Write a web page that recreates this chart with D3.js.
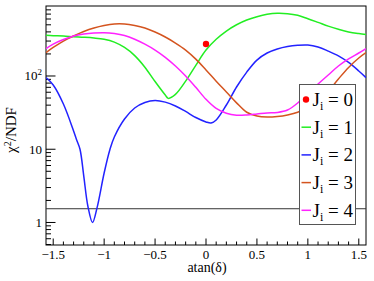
<!DOCTYPE html>
<html><head><meta charset="utf-8">
<script src="https://cdn.jsdelivr.net/npm/d3@7"></script>
<style>body{margin:0;background:#fff}svg{display:block}text{font-family:"Liberation Serif","DejaVu Serif",serif}</style>
</head><body>
<script>
// ---- data ----
const xGrid = [-1.5708,-1.5,-1.4,-1.3,-1.2,-1.1,-1.0,-0.9,-0.8,-0.7,-0.6,-0.5,-0.4,-0.3,-0.2,-0.1,0,0.1,0.2,0.3,0.4,0.5,0.6,0.7,0.8,0.9,1.0,1.1,1.2,1.3,1.4,1.5,1.5708];

const j1X = [-1.5708,-1.5,-1.4,-1.3,-1.2,-1.1,-1.0,-0.9,-0.8,-0.7,-0.6,-0.5,-0.4,-0.37,-0.3,-0.2,-0.1,0,0.1,0.2,0.3,0.4,0.5,0.6,0.7,0.8,0.9,1.0,1.1,1.2,1.3,1.4,1.5,1.5708];
const j1Y = [359,355,352,344,338,330,317,290,245,190,132,84,55,49.5,56,85,140,226,317,411,501,582,645,695,718,709,674,606,540,480,435,400,380,370];

const j2X = [-1.5708,-1.5,-1.4,-1.3,-1.2697,-1.237,-1.2,-1.16,-1.114,-1.07,-1.0,-0.9425,-0.9,-0.8,-0.7,-0.6,-0.5,-0.4,-0.3,-0.2,-0.1,0,0.05,0.1,0.2,0.3,0.4,0.5,0.6,0.7,0.8,0.9,1.0,1.1,1.2,1.3,1.4,1.5,1.5708];
const j2Y = [95,75.4,41.5,17.8,13.4,10,4.3,1.68,1.0,1.58,4.74,10,14.7,25.9,36.6,43.5,46.3,44,39,32.8,27.1,23.6,22.8,25.1,40.2,70.8,113,165,206,234,253,263,265,249,219,188,153,117,95];

const j3Y = [208,245,300,352,405,452,489,513,513,489,452,399,341,282,226,170,121,85,60.5,43,32,28.4,27.5,28,29.4,32,37.7,45.6,62,91,131,176,208];

const j4Y = [236,273,315,352,374,386,390,380,357,318,272,226,180,137,100,70,48,36,31,29.2,29.4,30.3,31.3,31.8,34.3,42.8,58.6,77.8,103,137,171,206,237];

const j0Point = {x: 0.0, y: 273};
const refLevel = 1.54;

const legendLabels = ["0","1","2","3","4"];
const colors = ["#ff0000","#22ee22","#2222ff","#d4541f","#ff22ff"];
const xTickVals = [-1.5,-1,-0.5,0,0.5,1,1.5];
const xTickLabels = ["\u22121.5","\u22121","\u22120.5","0","0.5","1","1.5"];
const yTickVals = [1,10,100];

// ---- layout ----
const W = 374, H = 281;
const svg = d3.select("body").append("svg").attr("width", W).attr("height", H);
const FF = "Liberation Serif, DejaVu Serif, serif";

const x = d3.scaleLinear().domain([-Math.PI/2, Math.PI/2]).range([46, 366]);
const y = d3.scaleLog().domain([0.488, 889]).range([245.3, 6.5]);

const line = d3.line().x(d => x(d[0])).y(d => y(d[1])).curve(d3.curveCatmullRom.alpha(0.5));

const g = svg.append("g");
// frame
g.append("rect").attr("x", 46).attr("y", 6).attr("width", 320).attr("height", 239)
  .attr("fill", "none").attr("stroke", "#000").attr("stroke-width", 1);

// x ticks
const xMinor = d3.range(-15, 16).map(i => i/10).filter(v => !xTickVals.some(t => Math.abs(t - v) < 1e-9));
g.selectAll(".xminor").data(xMinor).join("line")
  .attr("x1", d => x(d)).attr("x2", d => x(d)).attr("y1", 245).attr("y2", 241.5)
  .attr("stroke", "#000").attr("stroke-width", 1);
g.selectAll(".xmajor").data(xTickVals).join("line")
  .attr("x1", d => x(d)).attr("x2", d => x(d)).attr("y1", 245).attr("y2", 238.5)
  .attr("stroke", "#000").attr("stroke-width", 1);
g.selectAll(".xlab").data(xTickVals).join("text")
  .attr("x", d => x(d)).attr("y", 258.5).attr("text-anchor", "middle")
  .attr("font-family", FF).attr("font-size", 13).text((d, i) => xTickLabels[i]);

// y ticks
const yMinor = [];
[0.1, 1, 10, 100].forEach(dec => { for (let k = 2; k <= 9; k++) { const v = dec*k; if (v >= 0.488 && v <= 889) yMinor.push(v); } });
g.selectAll(".yminor").data(yMinor).join("line")
  .attr("x1", 46).attr("x2", 51).attr("y1", d => y(d)).attr("y2", d => y(d))
  .attr("stroke", "#000").attr("stroke-width", 1);
g.selectAll(".ymajor").data(yTickVals).join("line")
  .attr("x1", 46).attr("x2", 55.5).attr("y1", d => y(d)).attr("y2", d => y(d))
  .attr("stroke", "#000").attr("stroke-width", 1);
const yl = g.selectAll(".ylab").data(yTickVals).join("text")
  .attr("x", 42).attr("y", d => y(d) + 4.5).attr("text-anchor", "end")
  .attr("font-family", FF).attr("font-size", 13);
yl.each(function(d) {
  const t = d3.select(this);
  if (d === 100) { t.append("tspan").text("10"); t.append("tspan").attr("dy", -5).attr("font-size", 9).text("2"); }
  else t.text(String(d));
});

// axis titles
svg.append("text").attr("x", 207).attr("y", 272).attr("text-anchor", "middle")
  .attr("font-family", FF).attr("font-size", 14).text("atan(\u03B4)");
const yt = svg.append("text").attr("transform", "translate(16,130) rotate(-90)").attr("text-anchor", "middle")
  .attr("font-family", FF).attr("font-size", 15);
yt.append("tspan").text("\u03C7");
yt.append("tspan").attr("dy", -5).attr("font-size", 10).text("2");
yt.append("tspan").attr("dy", 5).text("/NDF");

// clip for curves
svg.append("clipPath").attr("id", "clip").append("rect").attr("x", 46).attr("y", 6).attr("width", 320).attr("height", 239);
const pg = svg.append("g").attr("clip-path", "url(#clip)");

// reference horizontal line
pg.append("line").attr("x1", 46).attr("x2", 366).attr("y1", y(refLevel)).attr("y2", y(refLevel))
  .attr("stroke", "#333").attr("stroke-width", 1);

const series = [
  {xs: j1X, ys: j1Y, c: colors[1]},
  {xs: j2X, ys: j2Y, c: colors[2]},
  {xs: xGrid, ys: j3Y, c: colors[3]},
  {xs: xGrid, ys: j4Y, c: colors[4]}
];
series.forEach(s => {
  pg.append("path").datum(s.xs.map((v, i) => [v, s.ys[i]])).attr("d", line)
    .attr("fill", "none").attr("stroke", s.c).attr("stroke-width", 1.5);
});
pg.append("circle").attr("cx", x(j0Point.x)).attr("cy", y(j0Point.y)).attr("r", 3.2).attr("fill", colors[0]);

// legend
const L = svg.append("g");
L.append("rect").attr("x", 299.5).attr("y", 84.5).attr("width", 56).attr("height", 140)
  .attr("fill", "#fff").attr("stroke", "#555").attr("stroke-width", 1);
legendLabels.forEach((lab, i) => {
  const cy = 99.5 + i*27.7;
  if (i === 0) L.append("circle").attr("cx", 306).attr("cy", cy).attr("r", 3.2).attr("fill", colors[0]);
  else L.append("line").attr("x1", 301.5).attr("x2", 311).attr("y1", cy).attr("y2", cy).attr("stroke", colors[i]).attr("stroke-width", 1.5);
  const t = L.append("text").attr("x", 312.5).attr("y", cy + 6.3).attr("font-family", FF).attr("font-size", 19);
  t.append("tspan").text("J");
  t.append("tspan").attr("dy", 4).attr("font-size", 12).text("i");
  t.append("tspan").attr("dy", -4).text(" = " + lab);
});
</script>
</body></html>
